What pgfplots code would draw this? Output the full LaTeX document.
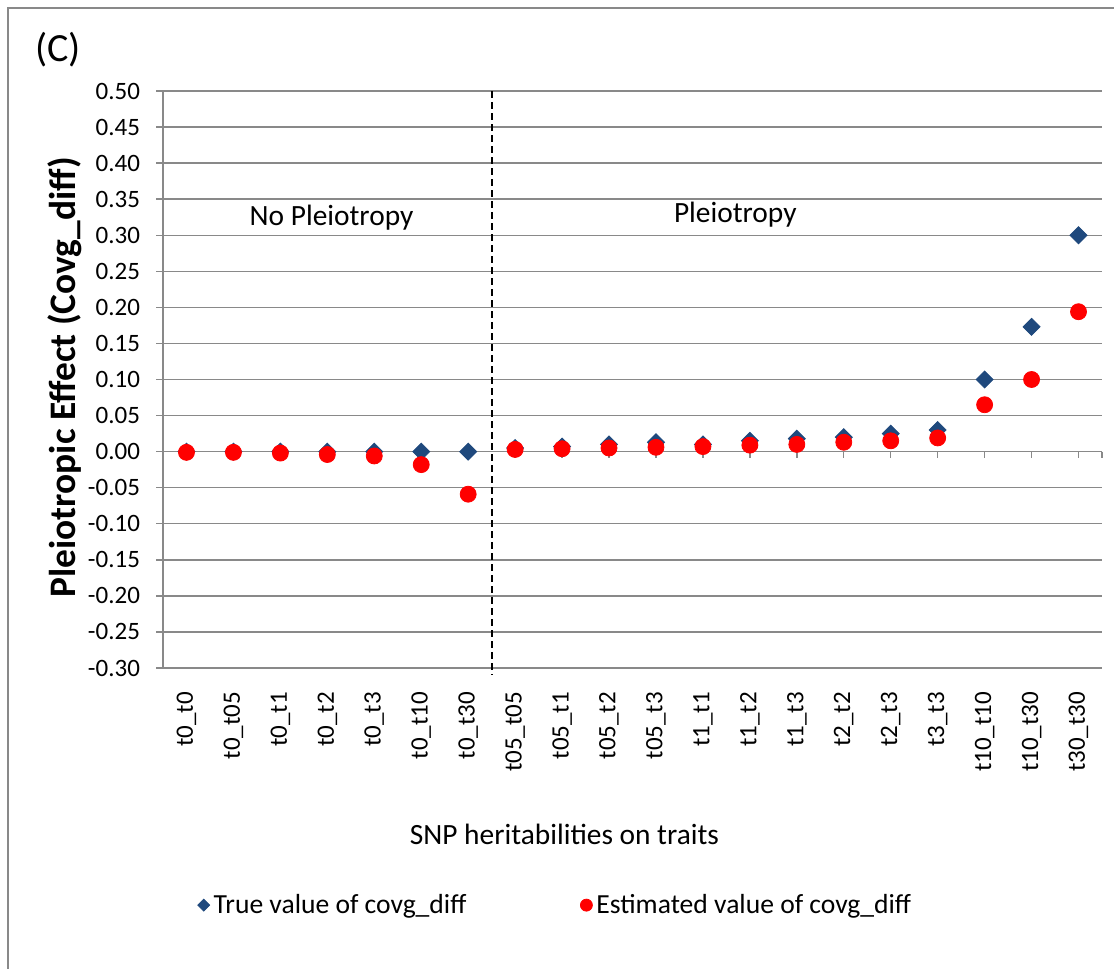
\documentclass[border=0pt]{standalone}
\usepackage{pgfplots}
\pgfplotsset{compat=1.18}
\usepackage{fontspec}
\setmainfont{Carlito}
\definecolor{gridgray}{RGB}{137,137,137}
\definecolor{trueblue}{RGB}{31,73,125}
\definecolor{estred}{RGB}{255,0,0}
\begin{document}
\begin{tikzpicture}[x=1pt,y=1pt]
\useasboundingbox (0,0) rectangle (557,484.5);
\draw[gridgray, line width=0.6pt] (4,-20) -- (4,480.5) -- (600,480.5);
\node[font=\fontsize{20}{24}\selectfont] at (29,459.5) {(C)};
\begin{axis}[
  at={(81.5pt,150.5pt)}, anchor=south west,
  scale only axis, width=469.5pt, height=288.5pt,
  xmin=-0.5, xmax=19.5, ymin=-0.30, ymax=0.50,
  clip=false,
  axis lines=left, axis line style={gridgray,-, line width=0.7pt},
  ymajorgrids, grid style={gridgray, line width=0.7pt},
  ytick={-0.30,-0.25,-0.20,-0.15,-0.10,-0.05,0,0.05,0.10,0.15,0.20,0.25,0.30,0.35,0.40,0.45,0.50},
  yticklabel style={/pgf/number format/.cd, fixed, fixed zerofill, precision=2, assume math mode=true},
  ytick style={gridgray, line width=0.7pt},
  tick align=outside, major tick length=3.5pt,
  ticklabel style={font=\fontsize{12.5}{14}\selectfont},
  yticklabel shift=4.5pt,
  xtick={0,...,19},
  xtick style={draw=none},
  xticklabels={t0\_t0,t0\_t05,t0\_t1,t0\_t2,t0\_t3,t0\_t10,t0\_t30,t05\_t05,t05\_t1,t05\_t2,t05\_t3,t1\_t1,t1\_t2,t1\_t3,t2\_t2,t2\_t3,t3\_t3,t10\_t10,t10\_t30,t30\_t30},
  xticklabel style={rotate=90, anchor=east},
  xticklabel shift=5pt,
  legend style={draw=none, fill=none, at={(0.419,-0.411)}, anchor=center, legend columns=2,
    font=\fontsize{13.8}{16}\selectfont,
    /tikz/every even column/.append style={column sep=55pt}},
  legend cell align=left,
]
\pgfplotsinvokeforeach{0,...,19}{\draw[gridgray, line width=0.7pt] (axis cs:#1,0) -- ++(0pt,-3pt);}
\draw[gridgray, line width=0.7pt] (axis cs:19.5,0) -- ++(0pt,-3pt);
\draw[black, dash pattern=on 3.5pt off 2pt, line width=1pt] (axis cs:6.5,0.5) -- ([yshift=-3.5pt]axis cs:6.5,-0.3);
\addplot[only marks, mark=square*, mark size=3pt, mark options={rotate=45, draw=trueblue, fill=trueblue},
  legend image code/.code={\draw[mark=square*, mark size=2.1pt, mark options={rotate=45, draw=trueblue, fill=trueblue}] plot coordinates {(0.1cm,0)};}]
  coordinates {(0,0) (1,0) (2,0) (3,0) (4,0) (5,0) (6,0)
  (7,0.005) (8,0.007) (9,0.010) (10,0.013) (11,0.010) (12,0.015) (13,0.018) (14,0.020) (15,0.025) (16,0.030) (17,0.100) (18,0.173) (19,0.300)};
\addlegendentry{True value of covg\_diff}
\addplot[only marks, mark=*, mark size=4pt, mark options={draw=estred, fill=estred},
  legend image code/.code={\draw[mark=*, mark size=3pt, mark options={draw=estred, fill=estred}] plot coordinates {(0.1cm,0)};}]
  coordinates {(0,-0.001) (1,-0.001) (2,-0.002) (3,-0.004) (4,-0.006) (5,-0.018) (6,-0.059)
  (7,0.003) (8,0.004) (9,0.005) (10,0.006) (11,0.007) (12,0.009) (13,0.010) (14,0.013) (15,0.015) (16,0.019) (17,0.065) (18,0.100) (19,0.194)};
\addlegendentry{Estimated value of covg\_diff}
\node[font=\fontsize{14.7}{17}\selectfont] at (axis cs:3.09,0.324) {No Pleiotropy};
\node[font=\fontsize{14.7}{17}\selectfont] at (axis cs:11.69,0.329) {Pleiotropy};
\node[font=\fontsize{14.7}{17}\selectfont] at (axis description cs:0.4275,-0.289) {SNP heritabilities on traits};
\node[font=\bfseries\fontsize{18.7}{22}\selectfont, rotate=90] at (axis description cs:-0.1045,0.504) {Pleiotropic Effect (Covg\_diff)};
\end{axis}
\end{tikzpicture}
\end{document}
